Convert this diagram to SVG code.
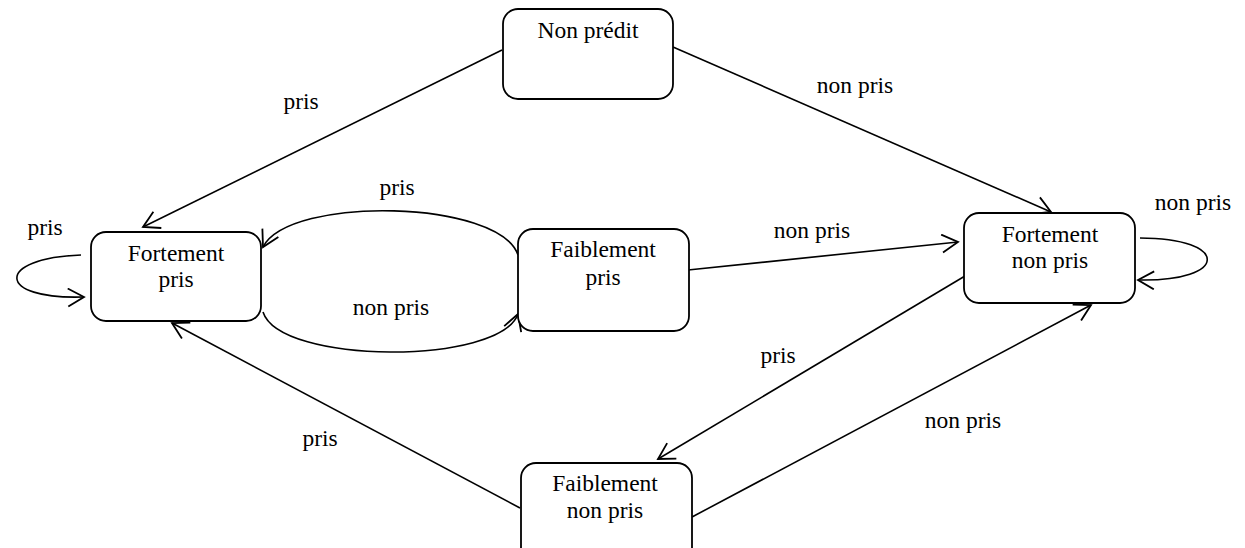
<svg xmlns="http://www.w3.org/2000/svg" width="1245" height="548" viewBox="0 0 1245 548">
<defs>
<style>
.box{fill:#fff;stroke:#000;stroke-width:1.8}
.t{font-family:"Liberation Serif","Times New Roman",serif;font-size:23.5px;fill:#000;text-anchor:middle}
.e{fill:none;stroke:#000;stroke-width:1.6}
</style>
<marker id="a" viewBox="0 0 20 20" refX="18" refY="10" markerWidth="20" markerHeight="20" markerUnits="userSpaceOnUse" orient="auto">
<path d="M2,1 L18,10 L2,19" fill="none" stroke="#000" stroke-width="1.8"/>
</marker>
</defs>
<rect width="1245" height="548" fill="#fff"/>
<g id="edges">
<line class="e" x1="502" y1="50" x2="143" y2="227" marker-end="url(#a)"/>
<line class="e" x1="673" y1="47" x2="1051" y2="212" marker-end="url(#a)"/>
<path class="e" d="M81,255 C-5,258 -5,300 84,297" marker-end="url(#a)"/>
<path class="e" d="M518,255 C500,200 290,195 263,247" marker-end="url(#a)"/>
<path class="e" d="M263,312 C280,365 500,365 518,314" marker-end="url(#a)"/>
<line class="e" x1="688" y1="270" x2="958" y2="242" marker-end="url(#a)"/>
<path class="e" d="M1140,238 C1230,238 1230,282 1138,280" marker-end="url(#a)"/>
<line class="e" x1="965" y1="276" x2="658" y2="459" marker-end="url(#a)"/>
<line class="e" x1="692" y1="517" x2="1091" y2="305" marker-end="url(#a)"/>
<line class="e" x1="520" y1="508" x2="172" y2="323" marker-end="url(#a)"/>
</g>
<g id="n-nonpredit"><rect class="box" x="503" y="9" width="170" height="90" rx="15"/><text class="t" x="588" y="38">Non prédit</text></g>
<g id="n-fortpris"><rect class="box" x="91" y="232" width="170" height="89" rx="15"/><text class="t" x="176" y="261">Fortement</text><text class="t" x="176" y="287">pris</text></g>
<g id="n-faibpris"><rect class="box" x="518" y="229" width="171" height="102" rx="15"/><text class="t" x="603" y="257">Faiblement</text><text class="t" x="603" y="285">pris</text></g>
<g id="n-fortnonpris"><rect class="box" x="964" y="213" width="171" height="90" rx="15"/><text class="t" x="1050" y="242">Fortement</text><text class="t" x="1050" y="268">non pris</text></g>
<g id="n-faibnonpris"><rect class="box" x="521" y="463" width="171" height="100" rx="15"/><text class="t" x="605" y="491">Faiblement</text><text class="t" x="605" y="518">non pris</text></g>
<g id="labels">
<text class="t" x="301" y="109">pris</text>
<text class="t" x="855" y="93">non pris</text>
<text class="t" x="45" y="235">pris</text>
<text class="t" x="397" y="195">pris</text>
<text class="t" x="391" y="315">non pris</text>
<text class="t" x="812" y="238">non pris</text>
<text class="t" x="1193" y="210">non pris</text>
<text class="t" x="778" y="363">pris</text>
<text class="t" x="963" y="428">non pris</text>
<text class="t" x="320" y="446">pris</text>
</g>
</svg>
